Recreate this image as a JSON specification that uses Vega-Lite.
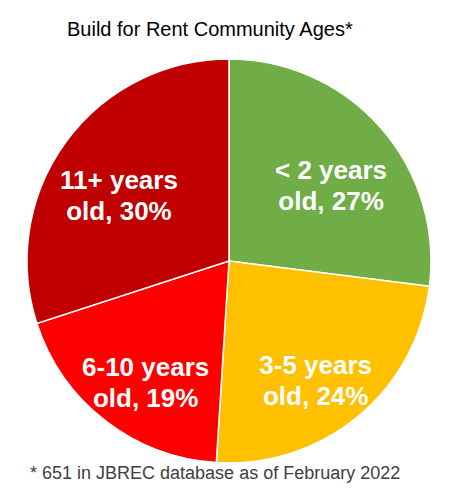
{
  "$schema": "https://vega.github.io/schema/vega-lite/v6.json",
  "width": 458,
  "height": 458,
  "autosize": "none",
  "padding": {"left": 0, "top": 32, "right": 5, "bottom": 0},
  "background": "white",
  "config": {"view": {"stroke": null}},
  "title": {
    "text": "Build for Rent Community Ages*",
    "font": "Liberation Sans",
    "fontSize": 20,
    "fontWeight": "normal",
    "color": "#000000",
    "anchor": "start",
    "offset": -8,
    "dx": 67
  },
  "data": {
    "values": [
      {"order": 1, "cat": "< 2 years", "line2": "old, 27%", "pct": 27},
      {"order": 2, "cat": "3-5 years", "line2": "old, 24%", "pct": 24},
      {"order": 3, "cat": "6-10 years", "line2": "old, 19%", "pct": 19},
      {"order": 4, "cat": "11+ years", "line2": "old, 30%", "pct": 30}
    ]
  },
  "encoding": {
    "theta": {"field": "pct", "type": "quantitative", "stack": true},
    "order": {"field": "order", "type": "ordinal"},
    "color": {
      "field": "cat",
      "type": "nominal",
      "scale": {
        "domain": ["< 2 years", "3-5 years", "6-10 years", "11+ years"],
        "range": ["#70AD47", "#FFC000", "#FF0000", "#C00000"]
      },
      "legend": null
    }
  },
  "layer": [
    {
      "mark": {"type": "arc", "outerRadius": 202, "stroke": "white", "strokeWidth": 1.5}
    },
    {
      "transform": [{"calculate": "[datum.cat, datum.line2]", "as": "lbl"}],
      "mark": {
        "type": "text",
        "radius": 136,
        "font": "Liberation Sans",
        "fontSize": 26,
        "fontWeight": "bold",
        "lineHeight": 31,
        "fill": "white",
        "align": "center",
        "baseline": "middle"
      },
      "encoding": {
        "text": {"field": "lbl"},
        "color": {"value": "white"}
      }
    },
    {
      "data": {"values": [{"note": "* 651 in JBREC database as of February 2022"}]},
      "mark": {
        "type": "text",
        "font": "Liberation Sans",
        "fontSize": 18,
        "fill": "#404040",
        "align": "left",
        "baseline": "alphabetic"
      },
      "encoding": {
        "text": {"field": "note"},
        "x": {"value": 30},
        "y": {"value": 447},
        "theta": null,
        "order": null,
        "color": null
      }
    }
  ]
}
